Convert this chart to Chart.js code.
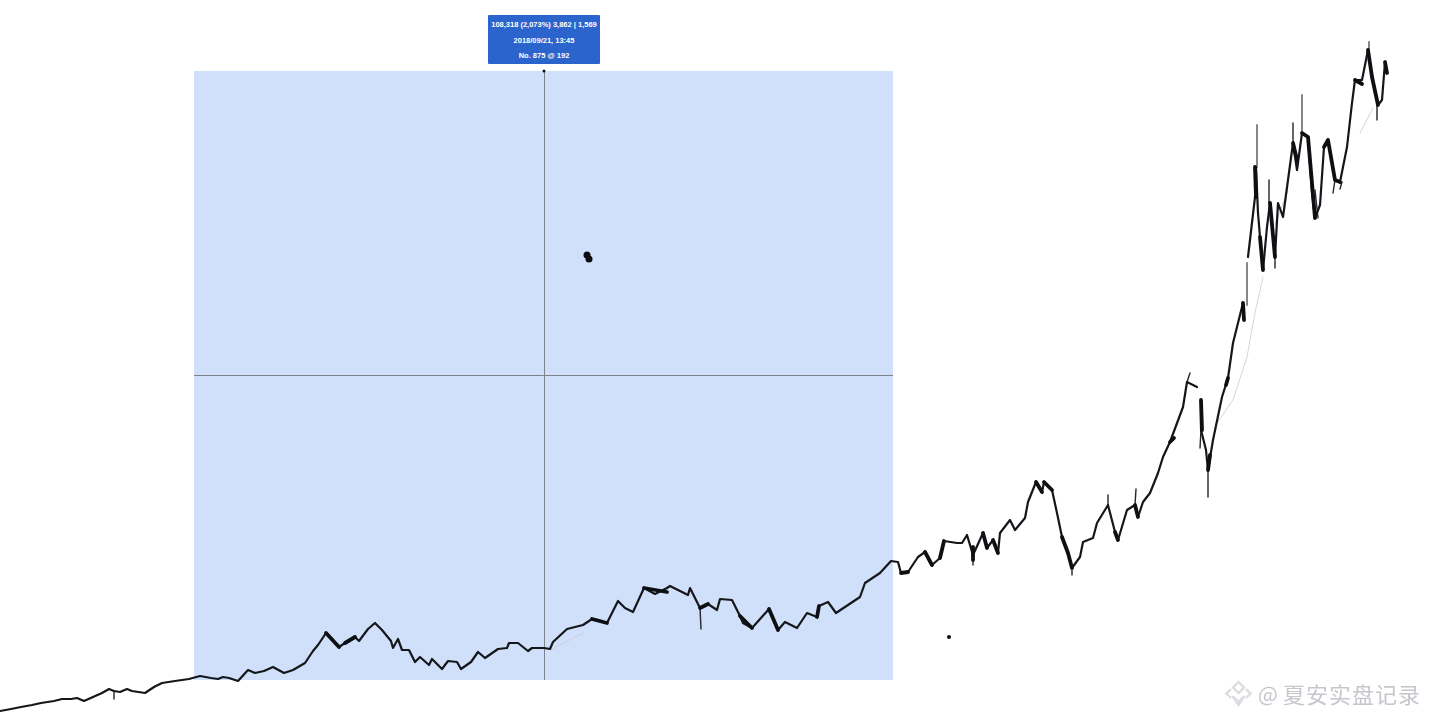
<!DOCTYPE html>
<html><head><meta charset="utf-8">
<style>
html,body{margin:0;padding:0;background:#fff;width:1433px;height:719px;overflow:hidden}
#wrap{position:relative;width:1433px;height:719px}
canvas{position:absolute;left:0;top:0}
#tip{position:absolute;left:488px;top:15px;width:112px;height:49px;background:#2b64cc;color:#fff;font:bold 7.5px/15.5px "Liberation Sans",sans-serif;text-align:center;box-sizing:border-box;padding-top:2px;white-space:nowrap;border-radius:1px}
#mark{position:absolute;left:1225px;top:677px;height:32px;display:flex;align-items:center;color:#c4c7cc;font:22px/32px "Noto Sans CJK SC",sans-serif;white-space:nowrap}
#mark svg{margin-right:6px}
</style></head>
<body><div id="wrap">
<canvas id="c" width="1433" height="719"></canvas>
<div id="tip">108,318 (2,073%) 3,862 | 1,569<br>2018/09/21, 13:45<br>No. 875 @ 192</div>
<div id="mark"><svg width="27" height="27" viewBox="0 0 27 27"><g fill="none" stroke="#dcdde0" stroke-width="2.4"><path d="M13.5 2 L19 7.5 L13.5 13 L8 7.5 Z"/><path d="M6 9 L1.5 13.5 L6 18"/><path d="M21 9 L25.5 13.5 L21 18"/><path d="M7.5 16 L13.5 22 L19.5 16 L13.5 25 Z"/></g></svg><span style="font-size:21px;margin-right:5px">@</span><span style="letter-spacing:1px">夏安实盘记录</span></div>
</div>
<script src="https://cdn.jsdelivr.net/npm/chart.js@4/dist/chart.umd.min.js"></script>
<script>
const mainX=[0,11,21,32,41,54,62,71,77,84,93,102,109,114,120,127,132,145,154,162,175,189,200,211,218,223,229,238,248,255,264,273,284,293,305,313,318,326,332,339,345,355,359,368,375,382,391,393,398,402,409,415,420,429,432,442,448,457,461,471,478,485,498,507,509,518,528,532,544,550,553,567,583,592,598,607,618,625,633,644,655,667,670,688,690,700,708,717,720,732,740,743,752,769,778,785,797,807,817,819,828,836,860,865,880,891,898,901,908,918,925,932,940,944,957,962,967,973,983,987,993,998,1000,1010,1015,1025,1028,1036,1042,1044,1052,1057,1062,1068,1072,1080,1083,1093,1097,1108,1115,1118,1127,1135,1138,1143,1150,1158,1163,1170,1183,1187,1197,1199,1201,1201,1206,1208,1213,1222,1228,1233,1238,1243,1248,1248,1255,1256,1258,1260,1263,1267,1270,1275,1278,1283,1288,1293,1297,1302,1308,1312,1315,1320,1324,1328,1335,1340,1347,1352,1355,1362,1368,1372,1378,1382,1385,1387];
const mainY=[711,709,707,705,703,701,699,699,698,701,697,693,689,691,692,689,691,693,687,683,681,679,676,678,679,677,678,681,670,673,671,667,673,670,663,651,645,633,639,647,643,637,641,629,623,630,641,648,639,650,650,662,657,665,659,669,661,662,669,662,652,658,649,648,643,643,651,648,648,649,642,629,625,619,620,623,601,608,612,588,594,588,586,595,588,608,604,610,599,600,616,623,628,609,630,622,628,613,617,606,602,613,597,583,573,561,562,573,572,557,552,565,558,541,543,543,535,555,533,548,540,553,533,520,530,518,502,482,492,482,490,513,537,553,568,557,542,538,523,505,532,540,510,505,517,502,493,473,457,442,407,382,387,null,400,430,450,470,440,397,378,343,323,303,null,257,197,167,213,237,270,227,203,257,203,217,180,143,170,133,137,193,218,205,147,140,180,182,147,103,80,80,50,77,105,100,62,73];
const heavyX=[326,339,null,355,345,null,592,607,null,644,667,null,700,708,null,740,752,null,769,778,null,817,819,null,901,908,null,925,932,null,940,944,null,973,973,null,983,987,null,998,993,null,1036,1042,null,1044,1052,null,1062,1068,1072,null,1115,1118,null,1135,1138,null,1170,1174,null,1201,1202,null,1208,1210,null,1228,1226,null,1243,1244,null,1255,1256,null,1260,1263,null,1270,1275,null,1293,1297,null,1302,1308,1315,null,1324,1328,1335,1340,null,1355,1362,null,1368,1372,1378,null,1385,1387];
const heavyY=[633,647,null,637,643,null,619,623,null,588,592,null,608,604,null,616,628,null,609,630,null,617,606,null,573,572,null,552,565,null,558,541,null,547,560,null,533,548,null,553,540,null,482,492,null,482,490,null,537,553,568,null,532,540,null,505,517,null,442,438,null,400,430,null,470,455,null,378,385,null,303,320,null,167,197,null,237,270,null,203,257,null,143,160,null,133,137,218,null,147,140,180,182,null,80,84,null,50,77,105,null,62,73];
const spikeX=[114,114,null,700,701,null,973,973,null,1072,1072,null,1108,1108,null,1135,1136,null,1187,1190,null,1201,1200,null,1208,1208,null,1269,1269,null,1293,1293,null,1275,1275,null,1318,1315,null,1335,1333,null,1342,1340,null,1377,1377];
const spikeY=[691,699,null,608,629,null,555,565,null,568,575,null,505,495,null,505,489,null,382,373,null,430,448,null,470,497,null,203,180,null,143,123,null,257,268,null,218,190,null,180,193,null,182,189,null,105,120];
const wickX=[1247,1247,null,1257,1257,null,1302,1302,null,1369,1369];
const wickY=[263,305,null,125,167,null,95,133,null,42,60];
const avgX=[550,583,null,1217,1233,1247,1255,1263,null,1275,1288,null,1360,1373];
const avgY=[650,633,null,423,400,357,313,277,null,225,190,null,133,108];
const bandX=[194,893], bandTop=[71,71], bandBottom=680;
const crossVX=[544.5,544.5], crossVY=[71,680];
const crossHX=[194,893], crossHY=[375.5,375.5];
const dotX=[587,589,949,544], dotY=[255,259,637,71], dotR=[3.5,3.5,2,1.5];

function pts(xs,ys){return xs.map((x,i)=>({x:x,y:ys[i]}));}
function line(xs,ys,color,width,extra){return Object.assign({type:'line',data:pts(xs,ys),borderColor:color,borderWidth:width,pointRadius:0,tension:0,spanGaps:false,borderJoinStyle:'round',borderCapStyle:'round',clip:false},extra||{});}

new Chart(document.getElementById('c'),{
  data:{datasets:[
    line(bandX,bandTop,'rgba(0,0,0,0)',0,{backgroundColor:'#d0e0fa',fill:{value:bandBottom},order:6}),
    line(crossVX,crossVY,'#7d838c',1,{order:5,borderCapStyle:'butt'}),
    line(crossHX,crossHY,'#7d838c',1,{order:5,borderCapStyle:'butt'}),
    line(avgX,avgY,'#c9ccd2',0.8,{order:4}),
    line(wickX,wickY,'#777a7e',1.8,{order:3,borderCapStyle:'butt'}),
    line(spikeX,spikeY,'#24262a',1.4,{order:2}),
    line(mainX,mainY,'#14161a',2.2,{order:1}),
    line(heavyX,heavyY,'#0e0f12',3.8,{order:0}),
    {type:'scatter',data:pts(dotX,dotY),backgroundColor:'#0c0d10',borderWidth:0,pointRadius:dotR,order:0,clip:false}
  ]},
  options:{
    responsive:false,animation:false,maintainAspectRatio:false,
    layout:{padding:0,autoPadding:false},
    plugins:{legend:{display:false},tooltip:{enabled:false},title:{display:false}},
    scales:{
      x:{type:'linear',min:0,max:1433,display:false},
      y:{type:'linear',min:0,max:719,reverse:true,display:false}
    }
  }
});
</script>
</body></html>
